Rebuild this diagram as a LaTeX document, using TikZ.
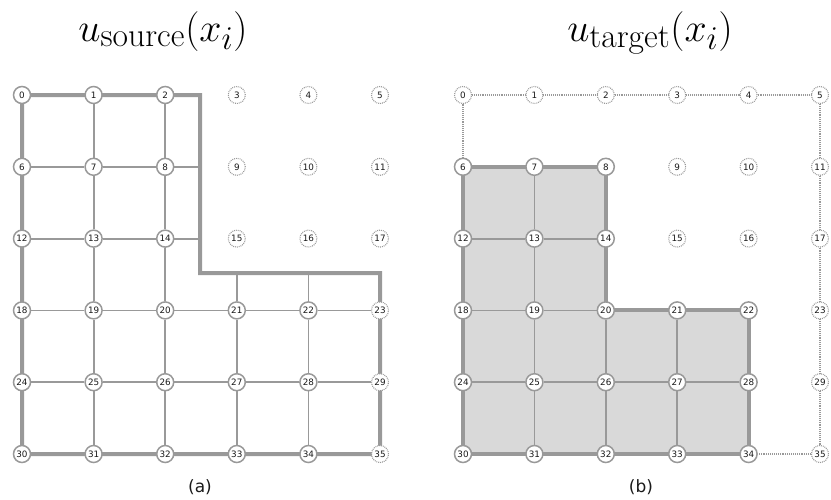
\documentclass[tikz,border=0pt]{standalone}
\usepackage{fontspec}
\newfontfamily\labelfont{DejaVu Sans}
\usetikzlibrary{backgrounds}
\definecolor{edgeclr}{HTML}{999999}
\definecolor{cellclr}{HTML}{D9D9D9}
\definecolor{textclr}{HTML}{1A1A1A}

\newcommand{\subtag}[1]{\mbox{\fontsize{21}{24}\selectfont #1}}

\tikzset{
  pt/.style={circle, draw=edgeclr, fill=white, line width=1.5pt, minimum size=17pt,
             inner sep=0pt, text=textclr, font=\labelfont\fontsize{8.8}{8.8}\selectfont},
  ghost/.style={pt, line width=1.1pt, dash pattern=on 0.9pt off 1pt},
  grid line/.style={edgeclr, line width=1.8pt},
  rim/.style={edgeclr, line width=4pt, line join=miter},
  hint/.style={edgeclr, line width=1.1pt, dash pattern=on 0.9pt off 1pt},
  title/.style={anchor=base, font=\Huge, scale=1.6},
}

\begin{document}
\begin{tikzpicture}[x=1pt, y=-1pt]
\useasboundingbox (0,0) rectangle (831,499);

% --- titles ---------------------------------------------------------------
\node[title] (srcTitle) at (163,41) {$u_{\subtag{source}}(x_i)$};
\node[title] (tgtTitle) at (650,41) {$u_{\subtag{target}}(x_i)$};

% --- (a) source grid: nodes -----------------------------------------------
\foreach \i in {0,1,2,6,7,8,12,13,14,18,19,20,21,22,24,25,26,27,28,30,31,32,33,34} {
  \pgfmathtruncatemacro\c{mod(\i,6)}
  \pgfmathtruncatemacro\r{div(\i,6)}
  \node[pt] (L\i) at ({22+71.6*\c},{95+71.8*\r}) {\i};
}
\foreach \i in {3,4,5,9,10,11,15,16,17,23,29,35} {
  \pgfmathtruncatemacro\c{mod(\i,6)}
  \pgfmathtruncatemacro\r{div(\i,6)}
  \node[ghost] (L\i) at ({22+71.6*\c},{95+71.8*\r}) {\i};
}
\coordinate (Lk1) at (200,95);
\coordinate (Lk2) at (200,273);
\coordinate (Lk3) at (380,273);

% inner lines
\draw[grid line] (L1) -- (L7) -- (L13) -- (L19) -- (L25) -- (L31);
\draw[grid line] (L2) -- (L8) -- (L14) -- (L20) -- (L26) -- (L32);
\draw[grid line] (L21 |- Lk2) -- (L21) -- (L27) -- (L33);
\draw[grid line] (L22 |- Lk2) -- (L22) -- (L28) -- (L34);
\draw[grid line] (L6) -- (L7) -- (L8) -- (L8 -| Lk1);
\draw[grid line] (L12) -- (L13) -- (L14) -- (L14 -| Lk1);
\draw[grid line] (L18) -- (L19) -- (L20) -- (L21) -- (L22) -- (L23);
\draw[grid line] (L24) -- (L25) -- (L26) -- (L27) -- (L28) -- (L29);

% outline of the source domain
\begin{pgfonlayer}{background}
  \draw[rim] (L0.center) -- (Lk1) -- (Lk2) -- (Lk3) -- (L35.center) -- (L30.center) -- cycle;
\end{pgfonlayer}

% --- (b) target grid: nodes -----------------------------------------------
\foreach \i in {6,7,8,12,13,14,18,19,20,21,22,24,25,26,27,28,30,31,32,33,34} {
  \pgfmathtruncatemacro\c{mod(\i,6)}
  \pgfmathtruncatemacro\r{div(\i,6)}
  \node[pt] (R\i) at ({463+71.4*\c},{95+71.8*\r}) {\i};
}
\foreach \i in {0,1,2,3,4,5,9,10,11,15,16,17,23,29,35} {
  \pgfmathtruncatemacro\c{mod(\i,6)}
  \pgfmathtruncatemacro\r{div(\i,6)}
  \node[ghost] (R\i) at ({463+71.4*\c},{95+71.8*\r}) {\i};
}

% inner lines
\draw[grid line] (R7) -- (R13) -- (R19) -- (R25) -- (R31);
\draw[grid line] (R20) -- (R26) -- (R32);
\draw[grid line] (R21) -- (R27) -- (R33);
\draw[grid line] (R12) -- (R13) -- (R14);
\draw[grid line] (R18) -- (R19) -- (R20);
\draw[grid line] (R24) -- (R25) -- (R26) -- (R27) -- (R28);

% the rest of the source square, dotted
\draw[hint] (R6) -- (R0) -- (R1) -- (R2) -- (R3) -- (R4) -- (R5)
  -- (R11) -- (R17) -- (R23) -- (R29) -- (R35) -- (R34);

% shaded target domain
\begin{pgfonlayer}{background}
  \draw[rim, fill=cellclr] (R6.center) -- (R8.center) -- (R20.center) -- (R22.center)
    -- (R34.center) -- (R30.center) -- cycle;
\end{pgfonlayer}

% --- captions -------------------------------------------------------------
\node[text=textclr, font=\labelfont\fontsize{17}{20}\selectfont] (capA) at (200,487) {(a)};
\node[text=textclr, font=\labelfont\fontsize{17}{20}\selectfont] (capB) at (641,487) {(b)};

\end{tikzpicture}
\end{document}
